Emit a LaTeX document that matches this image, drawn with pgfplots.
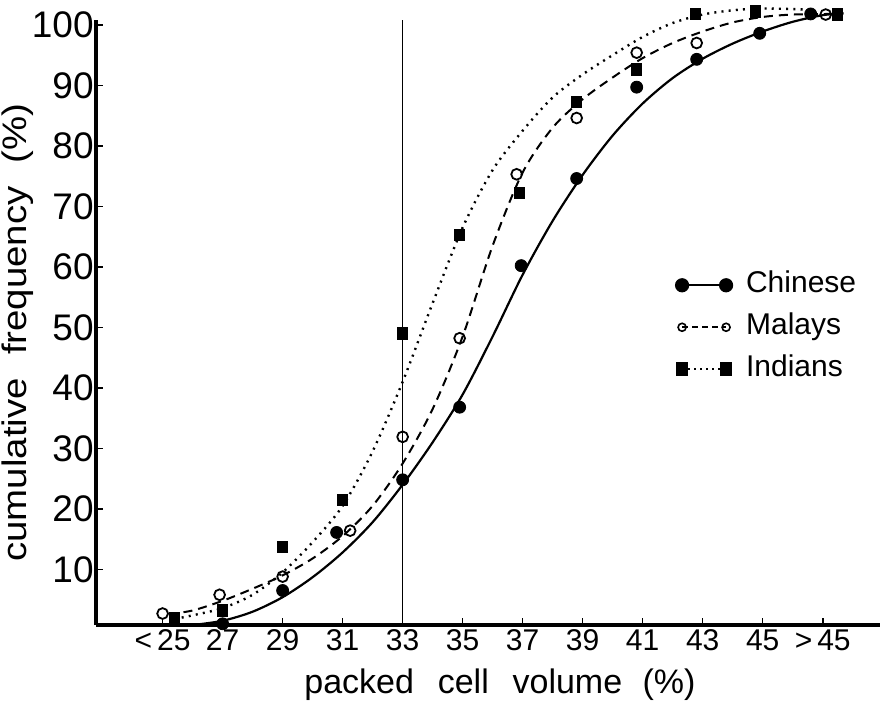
\documentclass[border=0pt]{standalone}
\usepackage{fontspec}
\setmainfont{Liberation Sans}
\usepackage{graphicx}
\usepackage{pgfplots}
\pgfplotsset{compat=1.18}
\begin{document}
\begin{tikzpicture}
\begin{axis}[
  name=ax,
  scale only axis,
  width=392pt, height=302.5pt,
  xmin=22.78, xmax=48.91,
  ymin=0.8, ymax=100.8,
  axis x line=bottom, axis y line=left,
  axis line style={line width=1.8pt, -},
  xtick={25,27,...,47},
  xticklabels={<\,25,27,29,31,33,35,37,39,41,43,45,>\,45},
  ytick={10,20,...,100},
  tick align=inside,
  major tick length=3.5pt,
  tick style={line width=0.8pt, black},
  xticklabel style={font=\fontsize{15}{16}\selectfont, inner sep=2pt},
  yticklabel style={font=\fontsize{18.5}{20}\selectfont, inner sep=1pt},
  /pgf/number format/assume math mode=true,
  clip=false,
  xlabel={packed\hspace{0.7em}cell\hspace{0.7em}volume\hspace{0.6em}(\%)},
  ylabel={\scalebox{1.13}[1]{cumulative\hspace{0.6em}frequency\hspace{0.6em}(\%)}},
  xlabel style={font=\fontsize{17}{18}\selectfont, at={(axis description cs:0.5,0)}, anchor=center, yshift=-30pt, xshift=6pt},
  ylabel style={font=\fontsize{17}{18}\selectfont, at={(axis description cs:0,0.5)}, anchor=center, yshift=39pt, xshift=-5pt},
  legend style={at={(axis cs:42.1,59.5)}, anchor=north west, draw=none, fill=none,
    font=\fontsize{15}{16}\selectfont, row sep=6pt, inner sep=0pt,
    nodes={inner sep=1pt, text height=10pt, text depth=3pt},
    /tikz/every odd column/.append style={column sep=6pt}},
  legend cell align=left,
  legend image code/.code={\draw[#1, mark repeat=1] plot coordinates {(0pt,0pt) (22pt,0pt)};},
]
\addlegendimage{line width=1.1pt, mark=*, mark size=3pt, mark options={solid}}
\addlegendentry{Chinese}
\addlegendimage{line width=0.9pt, dash pattern=on 3pt off 2pt, mark=o, mark size=2pt, mark options={solid, fill=white, line width=0.8pt}}
\addlegendentry{Malays}
\addlegendimage{line width=1pt, dash pattern=on 1pt off 2pt, mark=square*, mark size=2.3pt, mark options={solid, yscale=1.3}}
\addlegendentry{Indians}

% reference line at 33
\addplot[forget plot, line width=0.6pt] coordinates {(33,0.8) (33,100.8)};

% fitted curves
\addplot[forget plot, smooth, line width=1.1pt] coordinates {
(26.0,0.8) (27,1.5) (28,3.0) (29,5.4) (30,8.7) (31,12.8) (32,17.8) (33,24.0)
(34,31.0) (35,38.9) (36,48.5) (37,58.7) (38,67.6) (39,75.2) (40,81.7) (41,87.0)
(42,91.2) (43,94.4) (44,96.9) (45,98.9) (46,100.5) (47,101.6) (47.7,101.9)};
\addplot[forget plot, smooth, line width=1pt, dash pattern=on 4.5pt off 3pt] coordinates {
(25.2,2.6) (26,3.2) (27,4.8) (28,6.8) (29,9.0) (30,11.8) (31,15.5) (32,20.5)
(33,27.5) (34,36.5) (35,48.5) (36,63.5) (37,75.6) (38,83.0) (39,87.7) (40,91.3)
(41,94.5) (42,97.0) (43,98.9) (44,100.4) (45,101.3) (46,101.7) (47.3,101.8)};
\addplot[forget plot, smooth, line width=1.2pt, dash pattern=on 1pt off 2.6pt] coordinates {
(25.4,1.8) (26,2.4) (27,3.6) (28,5.8) (29,9.5) (30,14.5) (31,20.5) (32,29.5)
(33,41.0) (34,54.0) (35,66.5) (36,76.0) (37,82.5) (38,88.0) (39,91.8) (40,95.0)
(41,98.0) (42,100.3) (43,101.7) (44,102.4) (45,102.7) (46.7,102.5)};

% data points
\addplot[forget plot, only marks, mark=*, mark size=3pt] coordinates {
(27,1.0) (29,6.5) (30.8,16.1) (33,24.8) (34.9,36.8) (36.95,60.2) (38.8,74.6)
(40.8,89.7) (42.8,94.3) (44.9,98.6) (46.6,101.8)};
\addplot[forget plot, only marks, mark=o, mark size=2.7pt, mark options={fill=white, line width=0.9pt}] coordinates {
(25,2.7) (26.9,5.8) (29,8.8) (31.25,16.4) (33,31.9) (34.9,48.2) (36.8,75.3)
(38.8,84.6) (40.8,95.4) (42.8,97.0) (47.1,101.7)};
\addplot[forget plot, only marks, mark=square*, mark size=2.5pt, mark options={yscale=1.15}] coordinates {
(25.4,2.0) (27,3.2) (29,13.7) (31,21.5) (33,49.0) (34.9,65.3) (36.9,72.2)
(38.8,87.3) (40.8,92.6) (42.75,101.8) (44.75,102.2) (47.5,101.7)};
\end{axis}
\pgfresetboundingbox
\path[use as bounding box] ([shift={(-48pt,-39pt)}]ax.south west) rectangle ([shift={(0.5pt,10pt)}]ax.north east);
\end{tikzpicture}
\end{document}
